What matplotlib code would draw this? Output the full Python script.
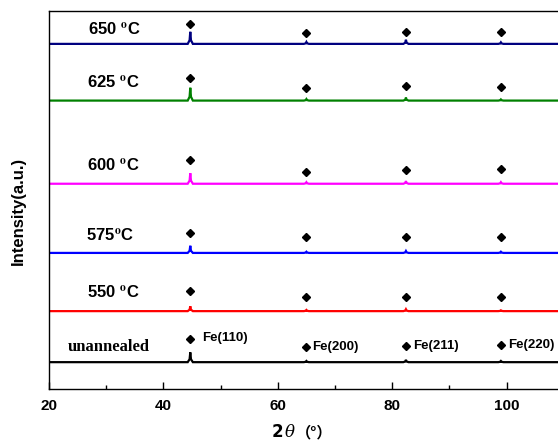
import matplotlib
matplotlib.use("Agg")
import matplotlib.pyplot as plt
from matplotlib.ticker import MultipleLocator
from matplotlib.offsetbox import TextArea, HPacker, AnnotationBbox
import numpy as np

plt.rcParams['font.family'] = ['Liberation Sans', 'Noto Sans CJK SC', 'DejaVu Sans']
plt.rcParams['mathtext.fontset'] = 'stix'

# XRD patterns, stacked with vertical offsets (arbitrary units)
samples = ["unannealed", "550 $^{\\mathbf{o}}$C", "575$^{\\mathbf{o}}$C",
           "600 $^{\\mathbf{o}}$C", "625 $^{\\mathbf{o}}$C", "650 $^{\\mathbf{o}}$C"]
colors = ["#000000", "#FF0000", "#0000FF", "#FF00FF", "#008000", "#00007F"]
baselines = [7.1, 20.6, 36.0, 54.3, 76.3, 91.3]

# Fe reflections: 2-theta positions and per-sample peak heights
peak_pos = [44.7, 65.0, 82.4, 99.0]
peak_names = ["Fe(110)", "Fe(200)", "Fe(211)", "Fe(220)"]
peak_heights = [
    [2.6, 0.3, 0.6, 0.3],
    [1.3, 0.3, 0.5, 0.2],
    [1.9, 0.3, 0.5, 0.3],
    [2.8, 0.4, 0.7, 0.4],
    [3.4, 0.4, 0.8, 0.3],
    [3.2, 0.5, 1.1, 0.4],
]

# Diamond marker heights above each peak
marker_y = [
    [13.3, 11.1, 11.5, 11.6],
    [25.9, 24.4, 24.4, 24.4],
    [41.2, 40.1, 40.1, 40.3],
    [60.6, 57.5, 58.0, 58.1],
    [82.4, 79.6, 80.2, 80.0],
    [96.5, 94.2, 94.5, 94.5],
]

label_x = [23.3, 26.6, 26.5, 26.7, 26.7, 26.8]
label_y = [11.2, 25.6, 40.7, 59.3, 81.2, 95.2]
fe_label_x = [46.8, 66.0, 83.7, 100.2]
fe_label_y = [13.4, 11.1, 11.5, 11.6]

x_start, x_end = 20, 110

fig = plt.figure(figsize=(5.58, 4.43), dpi=100)
ax = fig.add_axes([49 / 558, 54 / 443, (x_end - x_start) * 5.72 / 558, 378 / 443])


def pattern(base, heights):
    xs, ys = [x_start], [base]
    for c, h in zip(peak_pos, heights):
        xs += [c - 0.45, c - 0.12, c, c + 0.12, c + 0.45]
        ys += [base, base + 0.3 * h, base + h, base + 0.3 * h, base]
    xs.append(x_end)
    ys.append(base)
    return np.array(xs), np.array(ys)


for i in range(len(samples)):
    xs, ys = pattern(baselines[i], peak_heights[i])
    ax.plot(xs, ys, color=colors[i], lw=1.6, solid_joinstyle='miter')
    ax.plot(peak_pos, marker_y[i], linestyle='none', marker='D', ms=3.6,
            color='black')
    if i == 0:
        ax.text(label_x[i], label_y[i], samples[i], fontsize=12,
                fontweight='bold', family='Liberation Serif', va='center')
    else:
        ax.text(label_x[i], label_y[i], samples[i], fontsize=12,
                fontweight='bold', va='center')

for name, fx, fy in zip(peak_names, fe_label_x, fe_label_y):
    ax.text(fx, fy, name, fontsize=9.5, fontweight='bold', va='center')

ax.set_xlim(x_start, x_end)
ax.set_ylim(0, 100)
ax.xaxis.set_major_locator(MultipleLocator(20))
ax.xaxis.set_minor_locator(MultipleLocator(10))
ax.tick_params(axis='x', which='major', direction='in', length=5, width=1,
               pad=7, labelsize=11)
ax.tick_params(axis='x', which='minor', direction='in', length=3, width=1)
ax.tick_params(axis='y', left=False, labelleft=False)
for lab in ax.get_xticklabels():
    lab.set_fontweight('bold')
for s in ax.spines.values():
    s.set_linewidth(1.0)

ax.set_ylabel("Intensity(a.u.)", fontsize=12, fontweight='bold', labelpad=10)
ax.yaxis.set_label_coords(-0.045, 0.47)

# x-axis title: bold "2", italic theta, full-width brackets around the degree sign
parts = [
    TextArea("2", textprops=dict(fontsize=12, fontweight='bold',
                                 family='DejaVu Sans')),
    TextArea("θ", textprops=dict(fontsize=12, style='italic',
                                 family='DejaVu Serif')),
    TextArea("（°）", textprops=dict(fontsize=11, fontweight='bold',
                                   family='Noto Sans CJK SC')),
]
xlabel = HPacker(children=parts, align='baseline', pad=0, sep=1)
ab = AnnotationBbox(xlabel, (302 / 558, 1 - 432 / 443), xycoords='figure fraction',
                    frameon=False, box_alignment=(0.5, 0.5), pad=0)
fig.add_artist(ab)

fig.savefig("out.png", dpi=100)
